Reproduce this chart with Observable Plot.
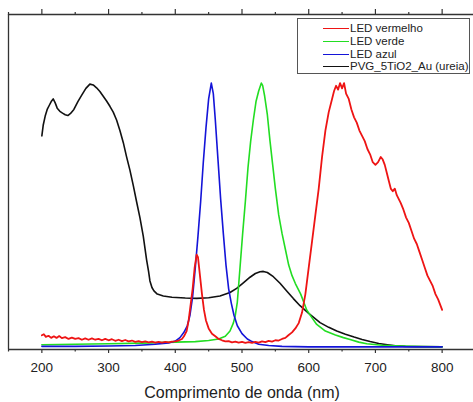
<!DOCTYPE html>
<html>
<head>
<meta charset="utf-8">
<script src="https://cdn.jsdelivr.net/npm/d3@7"></script>
<script src="https://cdn.jsdelivr.net/npm/@observablehq/plot@0.6"></script>
<style>
  html, body { margin: 0; padding: 0; background: #fff; }
  #wrap { position: relative; width: 473px; height: 402px; overflow: hidden; font-family: Arial, "Liberation Sans", sans-serif; }
  #legend { position: absolute; left: 297px; top: 18px; width: 173px; height: 56px; border: 1px solid #555; background: #fff; box-sizing: border-box; }
  .row { position: absolute; left: 0; height: 13px; font-size: 11.5px; color: #222; line-height: 13px; }
  .row .ln { position: absolute; left: 25px; top: 6px; width: 26px; height: 0; border-top: 1.6px solid; }
  .row .tx { position: absolute; left: 52px; top: 0; white-space: nowrap; }
</style>
</head>
<body>
<div id="wrap"></div>
<script>
// ---- data ----
const seriesNames = ["LED vermelho", "LED verde", "LED azul", "PVG_5TiO2_Au (ureia)"];
const seriesColors = ["#ee1414", "#22dd22", "#1414d8", "#111111"];

const redNm = [200,203,206,210,214,218,222,226,230,235,240,245,250,255,260,265,270,275,280,285,290,295,300,305,310,315,320,325,330,335,340,345,350,355,360,365,370,375,380,385,390,395,400,405,410,413,417,420,423,426,429,432,434,437,440,443,446,450,455,460,465,470,475,480,485,490,495,500,505,510,515,520,525,530,535,540,545,550,555,560,565,570,575,580,585,590,595,600,605,610,615,620,625,630,635,638,641,644,647,650,653,656,660,664,668,672,676,680,684,688,692,696,700,704,708,711,714,717,720,723,726,729,732,735,738,742,746,750,754,758,762,766,770,774,778,782,786,790,794,797,800];
const redVal = [0.044,0.048,0.038,0.042,0.034,0.04,0.034,0.041,0.033,0.037,0.03,0.035,0.03,0.033,0.027,0.032,0.027,0.032,0.027,0.03,0.025,0.03,0.025,0.029,0.023,0.027,0.022,0.026,0.021,0.024,0.019,0.022,0.018,0.021,0.017,0.02,0.016,0.019,0.016,0.019,0.017,0.02,0.021,0.024,0.03,0.04,0.06,0.1,0.16,0.22,0.3,0.35,0.34,0.27,0.2,0.14,0.1,0.07,0.05,0.04,0.03,0.025,0.021,0.022,0.017,0.02,0.016,0.019,0.015,0.018,0.015,0.019,0.016,0.021,0.018,0.023,0.02,0.025,0.024,0.03,0.034,0.045,0.055,0.07,0.09,0.13,0.2,0.3,0.4,0.5,0.6,0.72,0.82,0.89,0.94,0.97,0.99,0.975,1.0,0.98,1.0,0.96,0.94,0.9,0.87,0.85,0.82,0.8,0.78,0.75,0.73,0.7,0.69,0.7,0.72,0.71,0.69,0.66,0.63,0.6,0.59,0.6,0.575,0.56,0.545,0.52,0.49,0.47,0.44,0.41,0.39,0.36,0.33,0.3,0.27,0.25,0.23,0.2,0.18,0.16,0.14];

const greenNm = [200,250,300,350,400,430,450,465,475,482,487,490,493,497,501,505,509,513,517,521,525,529,531,534,538,542,546,550,555,560,565,570,575,580,588,597,605,612,625,640,652,662,675,687,710,737,770,800];
const greenVal = [0.008,0.01,0.012,0.014,0.018,0.02,0.024,0.03,0.04,0.06,0.09,0.12,0.17,0.3,0.43,0.55,0.68,0.78,0.86,0.93,0.97,1.0,0.99,0.95,0.88,0.78,0.69,0.6,0.5,0.43,0.37,0.31,0.27,0.24,0.2,0.14,0.11,0.085,0.06,0.045,0.035,0.028,0.018,0.012,0.006,0.003,0.001,0];

const blueNm = [200,250,300,340,370,390,400,407,413,418,422,426,430,434,438,442,446,450,454,457,460,464,468,472,476,480,484,488,493,500,508,515,525,540,560,600,700,800];
const blueVal = [0.002,0.002,0.003,0.005,0.01,0.015,0.022,0.035,0.055,0.08,0.12,0.19,0.3,0.42,0.55,0.7,0.83,0.94,1.0,0.96,0.86,0.71,0.56,0.43,0.31,0.22,0.165,0.12,0.08,0.05,0.03,0.02,0.01,0.005,0.002,0,0,0];

const blackNm = [200,202,205,208,211,214,217,220,223,227,231,235,239,243,248,254,260,266,272,277,282,287,292,297,302,307,312,317,322,327,332,337,342,347,352,357,360,362,365,368,373,382,395,415,432,450,467,482,492,502,512,520,527,532,538,547,557,567,577,587,600,617,630,642,655,668,680,692,705,718,730,745,760,800];
const blackVal = [0.8,0.84,0.875,0.9,0.915,0.93,0.94,0.925,0.905,0.893,0.886,0.88,0.877,0.885,0.9,0.93,0.955,0.98,0.996,0.993,0.982,0.968,0.95,0.932,0.912,0.89,0.86,0.82,0.775,0.72,0.67,0.612,0.55,0.49,0.42,0.33,0.285,0.25,0.225,0.212,0.2,0.193,0.188,0.185,0.184,0.186,0.193,0.206,0.222,0.243,0.264,0.278,0.285,0.286,0.282,0.266,0.241,0.212,0.183,0.156,0.127,0.092,0.074,0.06,0.048,0.037,0.028,0.02,0.013,0.008,0.004,0.002,0.001,0];

const majorTicks = [200,300,400,500,600,700,800];
const minorTicks = [150,250,350,450,550,650,750,850];
const xLabel = "Comprimento de onda (nm)";

// ---- build ----
const toRows = (nm, val, s) => nm.map((x, i) => ({x, y: val[i], s}));
const rows = [
  ...toRows(blackNm, blackVal, seriesNames[3]),
  ...toRows(greenNm, greenVal, seriesNames[1]),
  ...toRows(blueNm, blueVal, seriesNames[2]),
  ...toRows(redNm, redVal, seriesNames[0])
];
const colorOf = Object.fromEntries(seriesNames.map((n, i) => [n, seriesColors[i]]));

const W = 473, H = 402;
const axisColor = "#333";
const chart = Plot.plot({
  width: W, height: H,
  marginLeft: 8, marginRight: -2, marginTop: 14, marginBottom: 53,
  style: {fontFamily: 'Arial, "Liberation Sans", sans-serif', background: "transparent", overflow: "hidden"},
  x: {domain: [150, 850], range: [8, 475]},
  y: {domain: [-0.01, 1.26], range: [349, 14], axis: null},
  marks: [
    Plot.line(rows, {x: "x", y: "y", z: "s", stroke: d => colorOf[d.s], strokeWidth: d => d.s === seriesNames[0] ? 1.8 : 1.6, curve: "linear", strokeLinejoin: "round"}),
    Plot.ruleX([150], {stroke: axisColor, strokeWidth: 1.3}),
    Plot.ruleY([-0.01], {stroke: axisColor, strokeWidth: 1.3}),
    Plot.ruleY([1.26], {stroke: axisColor, strokeWidth: 1.3}),
    Plot.axisX({anchor: "bottom", ticks: majorTicks, tickSize: 4, tickPadding: 9, fontSize: 13.5, fill: "#222", stroke: axisColor, strokeWidth: 1.2, label: null, tickFormat: d => String(d)}),
    Plot.axisX({anchor: "bottom", ticks: minorTicks, tickSize: 2.5, fill: "none", stroke: axisColor, strokeWidth: 1.2, label: null}),
    Plot.axisX({anchor: "top", ticks: majorTicks, tickSize: 6, fill: "none", stroke: axisColor, strokeWidth: 1.2, label: null}),
    Plot.axisX({anchor: "top", ticks: minorTicks, tickSize: 3, fill: "none", stroke: axisColor, strokeWidth: 1.2, label: null}),
    Plot.text([xLabel], {frameAnchor: "bottom", dy: 43, lineAnchor: "middle", fontSize: 16, fill: "#222", text: d => d})
  ]
});

const wrap = document.getElementById("wrap");
wrap.appendChild(chart);

const legend = document.createElement("div");
legend.id = "legend";
const rowTops = [3, 16, 29, 41];
seriesNames.forEach((n, i) => {
  const r = document.createElement("div");
  r.className = "row";
  r.style.top = rowTops[i] + "px";
  r.innerHTML = `<span class="ln" style="border-color:${seriesColors[i]}"></span><span class="tx"></span>`;
  r.querySelector(".tx").textContent = n;
  legend.appendChild(r);
});
wrap.appendChild(legend);
</script>
</body>
</html>
